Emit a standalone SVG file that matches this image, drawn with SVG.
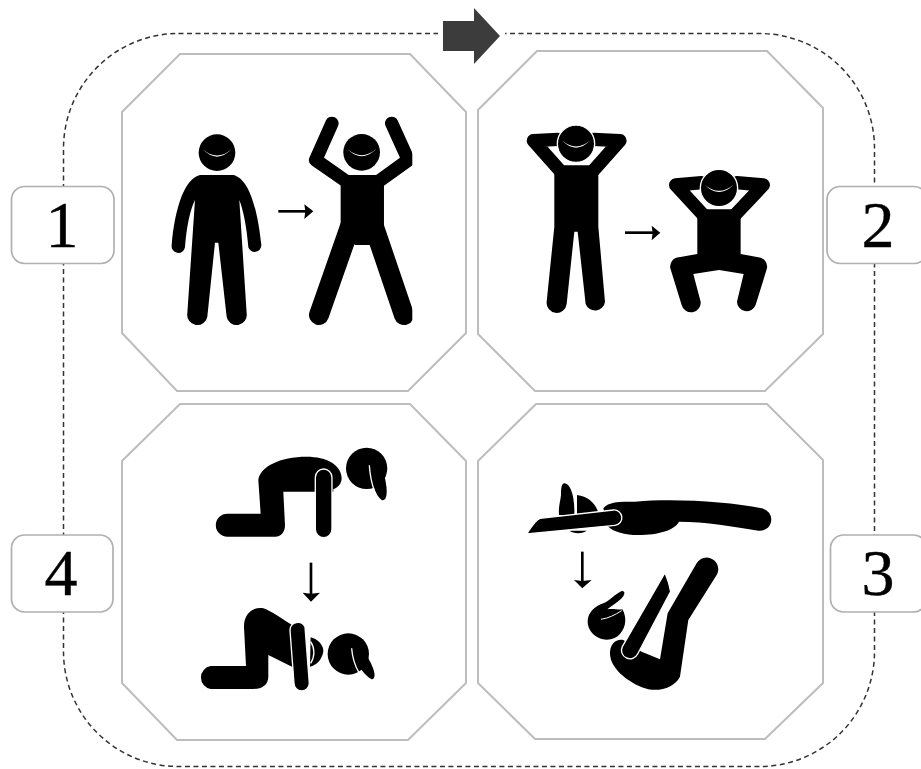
<svg xmlns="http://www.w3.org/2000/svg" width="921" height="769" viewBox="0 0 921 769">
<style>
.oct{fill:#fff;stroke:#bdbdbd;stroke-width:2}
.lab{fill:#fff;stroke:#b0b0b0;stroke-width:1.7}
.t{font-family:"Liberation Serif",serif;font-size:66px;fill:#000;stroke:#000;stroke-width:.4;text-anchor:middle}
.k{fill:#000;stroke:none}
.wl{fill:#000;stroke:#fff;stroke-width:4}
.sm{fill:#fff;stroke:none}
.wc{fill:none;stroke:#fff;stroke-width:4}
.l{fill:none;stroke:#000;stroke-linecap:round;stroke-linejoin:round}
.a{fill:none;stroke:#000;stroke-width:8}
</style>
<defs>
<path id="smile" class="sm" d="M-43 -10Q0 34 44 -10Q0 27 -43 -10Z"/>
</defs>
<rect width="921" height="769" fill="#fff"/>
<g id="connectors">
<rect x="63.5" y="33.5" width="811" height="733" rx="115" ry="115" fill="none" stroke="#333" stroke-width="1.5" stroke-dasharray="5 3.5"/>
<rect x="438" y="28" width="67" height="12" fill="#fff"/>
<polygon id="flow-arrow" points="443,21 474,21 474,8 500,36 474,64 474,51 443,51" fill="#3c3c3c"/>
</g>
<g id="panel1">
<polygon class="oct" points="180,54 410,54 466,112 466,333 408,391 177,391 122,333 122,112"/>
<g transform="translate(120 50) scale(.3333)">
<circle class="k" cx="291" cy="308" r="55"/><use href="#smile" x="291" y="308"/>
<path class="k" d="M240 375H340C385 385 412 470 424 585A20 20 0 0 1 385 592C380 530 370 480 358 450L380 790A30 30 0 0 1 320 800L295 578H285L262 800A30 30 0 0 1 202 790L225 450C210 480 200 530 195 592A20 20 0 0 1 155 585C165 470 195 385 240 375Z"/>
<path class="a" d="M475 484H565"/><path class="k" d="M553 463L580 484L553 507L556 484Z"/>
<circle class="k" cx="725" cy="307" r="55"/><use href="#smile" x="725" y="307"/>
<svg x="500" y="150" width="377" height="700" viewBox="500 150 377 700" overflow="hidden">
<path class="l" stroke-width="40" d="M636 220L587 330L680 395M815 220L865 330L775 395"/>
<path class="l" stroke-width="60" d="M690 530L597 795M762 530L852 795"/>
<path class="k" d="M680 375H772L792 400V530L750 585H705L662 530V400Z"/>
</svg>
</g>
</g>
<g id="panel2">
<polygon class="oct" points="537,51 767,51 823,108 823,334 765,391 535,391 478,334 478,110"/>
<g transform="translate(475 50) scale(.3333)">
<path class="l" stroke-width="40" d="M250 268L175 272L255 362M355 268L435 272L355 362"/>
<path class="k" d="M265 346H345L370 372V530L390 755A30 30 0 0 1 332 762L308 545H298L275 762A30 30 0 0 1 215 755L238 530V372Z"/>
<circle class="wl" cx="303" cy="281" r="56"/><use href="#smile" x="303" y="281"/>
<path class="a" d="M450 548H540"/><path class="k" d="M530 527L556 548L530 571L533 548Z"/>
<path class="l" stroke-width="40" d="M680 398L602 405L685 495M785 398L865 405L780 495"/>
<path class="k" d="M690 478H775L797 505V612L850 622A28 28 0 0 1 876 655L842 765A29 29 0 0 1 786 755L806 672L732 660L655 672L677 755A29 29 0 0 1 620 765L586 655A28 28 0 0 1 612 622L667 612V505Z"/>
<circle class="wl" cx="732" cy="414" r="56"/><use href="#smile" x="732" y="414"/>
</g>
</g>
<g id="panel3">
<polygon class="oct" points="536,404 767,404 823,460 823,683 765,739 535,739 478,683 478,461"/>
<g transform="translate(475 400) scale(.3333)">
<path class="k" d="M268 250C285 250 300 285 298 345L252 345C250 320 256 305 258 285C258 265 260 250 268 250Z"/>
<path class="k" d="M306 285C340 290 362 310 370 338L306 345ZM283 392H335C325 402 295 402 283 392Z"/>
<path class="k" d="M385 325C400 305 430 305 480 305C600 295 760 305 860 325A33 33 0 0 1 850 392C780 380 690 365 612 365C600 390 550 405 490 405C450 405 415 395 400 380Z"/>
<path class="wl" stroke-width="3" d="M155 402C170 378 185 358 195 355L415 330A23 23 0 0 1 420 376Z"/>
<path class="a" d="M322 455V550"/><path class="k" d="M297 540L322 565L350 540L322 543Z"/>
<path class="k" d="M385 610C400 605 410 590 440 573C452 572 450 585 440 595C425 610 410 618 397 628C415 625 430 630 442 628C455 650 455 680 435 702C415 725 375 725 352 700C330 675 330 630 385 610Z"/>
<path d="M378 658C400 655 420 645 440 632" fill="none" stroke="#fff" stroke-width="3"/>
<path class="k" d="M665 490A33 33 0 0 1 725 525L640 660L615 830C600 860 560 875 520 868C470 855 405 810 405 760C405 730 425 715 445 720L500 755L555 778L578 640Z"/>
<path class="wl" stroke-width="3" d="M570 518C575 530 583 550 587 575L488 762A25 25 0 0 1 442 740Z"/>
</g>
</g>
<g id="panel4">
<polygon class="oct" points="180,404 410,404 466,461 466,683 408,740 177,740 122,683 122,461"/>
<g transform="translate(120 400) scale(.3333)">
<circle class="k" cx="740" cy="205" r="62"/>
<path class="k" d="M750 200C752 240 765 285 785 300C800 305 805 280 795 235Z"/>
<path class="wc" d="M748 196C750 225 755 250 763 272"/>
<path class="a" d="M573 488V590"/><path class="k" d="M548 578L573 605L600 578L573 581Z"/>
<path class="k" d="M415 240C420 200 480 170 560 170C620 170 665 195 665 235C665 250 655 262 640 268V275H490L495 375C495 395 485 410 465 410H322A34 34 0 0 1 322 341H422Z"/>
<path class="wl" d="M586 232A24 24 0 0 1 636 232V388A25 25 0 0 1 586 388Z"/>
<circle class="k" cx="685" cy="762" r="62"/>
<path class="k" d="M695 745C700 780 730 825 755 838C768 838 768 815 745 775Z"/>
<path class="wc" d="M695 745C697 770 705 798 717 818"/>
<path class="k" d="M372 680C372 640 400 620 430 625C450 630 490 660 525 680V805L445 765V830C445 855 425 867 400 867H272A35 35 0 0 1 272 798H378Z"/>
<path class="k" d="M572 712C590 715 612 735 610 755C605 780 590 795 570 800Z"/>
<path class="wc" d="M572 725C585 745 585 770 572 790"/>
<path class="wl" d="M510 690A24 24 0 0 1 555 680L568 850A23 23 0 0 1 522 850Z"/>
</g>
</g>
<g id="label1"><rect class="lab" x="11.5" y="186.5" width="102.5" height="77" rx="13"/><text class="t" x="62" y="247">1</text></g>
<g id="label2"><rect class="lab" x="827" y="186.5" width="100" height="77" rx="13"/><text class="t" x="878" y="247">2</text></g>
<g id="label3"><rect class="lab" x="830.5" y="535" width="96" height="77" rx="13"/><text class="t" x="878" y="595">3</text></g>
<g id="label4"><rect class="lab" x="11.5" y="535" width="101.5" height="77" rx="13"/><text class="t" x="61" y="595">4</text></g>
</svg>
